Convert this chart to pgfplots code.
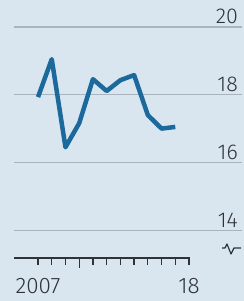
\documentclass[border=0pt]{standalone}
\usepackage{fontspec}
\setmainfont{Fira Sans}[UprightFont=* Light]
\usepackage{pgfplots}
\pgfplotsset{compat=1.18}
\definecolor{bg}{HTML}{DAE6EF}
\definecolor{econ}{HTML}{1C6A9C}
\definecolor{gridc}{HTML}{A9B5BE}
\definecolor{txt}{HTML}{2E3338}
\begin{document}
\begin{tikzpicture}
\fill[bg] (0bp,0bp) rectangle (244bp,301bp);
\useasboundingbox (0bp,0bp) rectangle (244bp,301bp);
\begin{axis}[at={(14bp,43bp)}, anchor=south west, scale only axis,
  width=228bp, height=231bp,
  xmin=2005.25, xmax=2021.86, ymin=13.18, ymax=20,
  axis line style={draw=none},
  clip=false,
  /pgf/number format/assume math mode=true,
  ytick={14,16,18,20}, ymajorgrids,
  grid style={gridc, line width=1.4bp},
  yticklabel pos=right, ytick style={draw=none},
  yticklabel style={anchor=south east, inner sep=0pt, yshift=3bp, xshift=-11bp,
    font=\fontsize{21.5}{21.5}\selectfont, text=txt},
  xtick={2007,...,2018}, xticklabels={2007,,,,,,,,,,,18},
  xtick pos=bottom, tick align=outside, major tick length=7bp,
  xtick style={txt, line width=1.3bp},
  xticklabel style={anchor=north, inner sep=0pt, yshift=-13bp,
    font=\fontsize{22.5}{22.5}\selectfont, text=txt},
]
\addplot[econ, line width=4.5bp, line join=round] coordinates {
(2007,17.93) (2008,19.05) (2009,16.45) (2010,17.16) (2011,18.46)
(2012,18.11) (2013,18.43) (2014,18.58) (2015,17.40) (2016,17.00) (2017,17.05)};
\draw[txt, line width=2bp] (axis cs:2005.25,13.18) -- (axis cs:2018.05,13.18);
\draw[txt, line width=1.3bp] (axis cs:2010,13.18) -- ++(0bp,-10bp);
\end{axis}
\draw[txt, line width=1.2bp, line join=round] (222bp,53bp) -- (225bp,53bp) -- (227bp,57bp) -- (231bp,47bp) -- (234bp,53bp) -- (241bp,53bp);
\end{tikzpicture}
\end{document}
